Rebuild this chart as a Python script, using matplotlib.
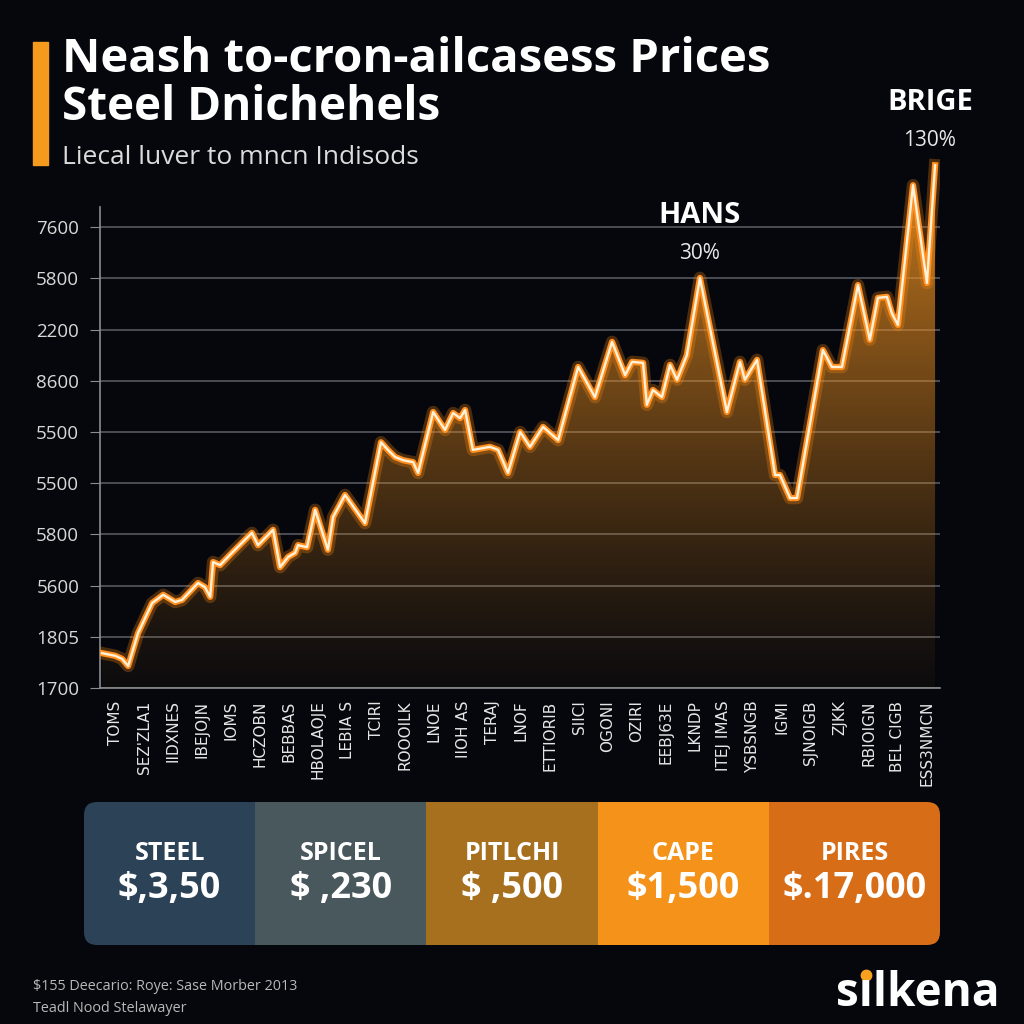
import numpy as np
import matplotlib
matplotlib.use("Agg")
import matplotlib.pyplot as plt
from matplotlib.patches import FancyBboxPatch, Rectangle
from matplotlib.transforms import IdentityTransform

# --- data ---
# x in category-slot units (0 = first tick label), y in tick-slot units
price_x = [-0.45, 0.0, 0.24, 0.45, 0.79, 1.28, 1.66, 2.07, 2.31, 2.86, 3.10, 3.28, 3.38, 3.62,
           4.03, 4.72, 4.93, 5.45, 5.69, 5.97, 6.21, 6.31, 6.62, 6.90, 7.34, 7.52, 7.93, 8.62,
           9.17, 9.41, 9.66, 9.93, 10.28, 10.45, 10.97, 11.38, 11.66, 11.90, 12.07, 12.34, 12.93,
           13.21, 13.55, 13.97, 14.31, 14.76, 15.28, 15.97, 16.55, 17.14, 17.59, 17.83, 18.21,
           18.34, 18.55, 18.86, 19.14, 19.38, 19.72, 20.17, 21.10, 21.55, 21.72, 22.14, 22.76,
           22.93, 23.28, 23.52, 24.41, 24.72, 25.07, 25.62, 26.03, 26.31, 26.62, 26.79, 27.00,
           27.52, 28.00, 28.28]
price_y = [0.68, 0.63, 0.57, 0.43, 1.07, 1.66, 1.82, 1.68, 1.72, 2.05, 1.97, 1.78, 2.46, 2.40,
           2.64, 3.03, 2.79, 3.09, 2.36, 2.56, 2.64, 2.79, 2.75, 3.48, 2.70, 3.34, 3.77, 3.22,
           4.80, 4.65, 4.51, 4.45, 4.41, 4.20, 5.39, 5.04, 5.37, 5.27, 5.43, 4.65, 4.71,
           4.65, 4.20, 5.00, 4.71, 5.10, 4.84, 6.27, 5.68, 6.76, 6.11, 6.37, 6.35,
           5.53, 5.82, 5.68, 6.31, 6.02, 6.50, 8.01, 5.39, 6.37, 6.02, 6.41, 4.16,
           4.16, 3.71, 3.71, 6.60, 6.27, 6.27, 7.87, 6.80, 7.62, 7.64, 7.32, 7.09,
           9.82, 7.91, 10.21]

x_labels = ["TOMS", "SEZ'ZLA1", "IIDXNES", "IBEJOJN", "IOMS", "HCZOBN", "BEBBAS", "HBOLAOJE",
            "LEBIA S", "TCIRI", "ROOOILK", "LNOE", "IIOH AS", "TERAJ", "LNOF", "ETTIORIB",
            "SIICI", "OGONI", "OZIRI", "EEBJ63E", "LKNDP", "ITEJ IMAS", "YSBSNGB", "IGMI",
            "SJNOIGB", "ZJKK", "RBIOIGN", "BEL CIGB", "ESS3NMCN"]
y_labels = ["1700", "1805", "5600", "5800", "5500", "5500", "8600", "2200", "5800", "7600"]

callouts = [("HANS", "30%", 20.17, 8.01), ("BRIGE", "130%", 28.1, 10.21)]

card_names = ["STEEL", "SPICEL", "PITLCHI", "CAPE", "PIRES"]
card_values = ["$,3,50", "$ ,230", "$ ,500", "$1,500", "$.17,000"]
card_colors = ["#2b4257", "#48585d", "#a6701f", "#f5921a", "#d76d16"]

BG = "#05070d"
ORANGE = "#ff8f1f"

fig = plt.figure(figsize=(10.24, 10.24), dpi=100, facecolor=BG)

# title block
fig.patches.append(Rectangle((33 / 1024, 1 - 165 / 1024), 15 / 1024, 123 / 1024,
                             transform=fig.transFigure, color="#f59a1c"))
fig.text(62 / 1024, 1 - 60 / 1024, "Neash to-cron-ailcasess Prices", color="white",
         fontsize=34, fontweight="bold", family="Open Sans", va="center")
fig.text(62 / 1024, 1 - 108 / 1024, "Steel Dnichehels", color="white",
         fontsize=33, fontweight="bold", family="Open Sans", va="center")
fig.text(62 / 1024, 1 - 158 / 1024, "Liecal luver to mncn Indisods", color="#dcdcdc",
         fontsize=19, family="Open Sans", va="center")

# --- main chart ---
ax = fig.add_axes([100 / 1024, 1 - 688 / 1024, 840 / 1024, 10.4 * 51.2 / 1024])
ax.set_facecolor(BG)
ax.set_xlim(-0.52, 28.45)
ax.set_ylim(0, 10.4)

for lv in range(10):
    ax.axhline(lv, color="#5d5f66", lw=1.1, zorder=1)

# gradient fill under the line
fill = ax.fill_between(price_x, price_y, 0, facecolor="none", edgecolor="none")
grad = np.linspace(0, 1, 256)[:, None]
rgba = np.zeros((256, 1, 4))
rgba[..., 0] = 0.90
rgba[..., 1] = 0.55
rgba[..., 2] = 0.13
rgba[..., 3] = 0.04 + 0.86 * grad ** 1.2
im = ax.imshow(rgba, extent=[-0.52, 28.45, 0, 10.4], origin="lower", aspect="auto", zorder=2)
im.set_clip_path(fill.get_paths()[0], transform=ax.transData)

# glowing line
ax.plot(price_x, price_y, color="#ff8a10", lw=9, alpha=0.28, zorder=3, solid_joinstyle="round")
ax.plot(price_x, price_y, color=ORANGE, lw=4.5, zorder=4, solid_joinstyle="round")
ax.plot(price_x, price_y, color="#fff2da", lw=1.7, zorder=5, solid_joinstyle="round")

for name, pct, cx, cy in callouts:
    ax.text(cx, cy + 1.22, name, color="white", fontsize=21, fontweight="bold",
            family="Open Sans", ha="center", va="center")
    ax.text(cx, cy + 0.48, pct, color="#e8e8e8", fontsize=15, family="Open Sans",
            ha="center", va="center")

for s in ["top", "right"]:
    ax.spines[s].set_visible(False)
ax.spines["left"].set_bounds(0, 9.4)
for s in ["left", "bottom"]:
    ax.spines[s].set_color("#8a8c90")
    ax.spines[s].set_linewidth(1.2)

ax.set_yticks(range(10))
ax.set_yticklabels(y_labels, color="#d8d8d8", fontsize=13.5, family="Open Sans")
ax.set_xticks(range(len(x_labels)))
ax.set_xticklabels(x_labels, rotation=90, color="#e6e6e6", fontsize=11, family="DejaVu Sans",
                   va="top")
ax.tick_params(axis="y", length=7, color="#8a8c90", pad=8)
ax.tick_params(axis="x", length=0, pad=9)

# --- price cards ---
cax = fig.add_axes([84 / 1024, 1 - 945 / 1024, 856 / 1024, 143 / 1024])
cax.set_xlim(0, 5)
cax.set_ylim(0, 1)
cax.axis("off")
clip = FancyBboxPatch((84, 1024 - 945), 856, 143, boxstyle="round,pad=0,rounding_size=13",
                      transform=IdentityTransform(), facecolor="none", edgecolor="none")
bars = cax.bar(np.arange(5) + 0.5, [1] * 5, width=1.0, color=card_colors)
for b in bars:
    b.set_clip_path(clip)
for i in range(5):
    cax.text(i + 0.5, 0.64, card_names[i], color="white", fontsize=18, fontweight="bold",
             family="Open Sans", ha="center", va="center")
    cax.text(i + 0.5, 0.39, card_values[i], color="white", fontsize=26, fontweight="bold",
             family="Open Sans", ha="center", va="center")

# footer
fig.text(33 / 1024, 1 - 987 / 1024, "$155 Deecario: Roye: Sase Morber 2013", color="#b8b8b8",
         fontsize=10.4, family="Open Sans", va="center")
fig.text(33 / 1024, 1 - 1008 / 1024, "Teadl Nood Stelawayer", color="#b8b8b8",
         fontsize=10.4, family="Open Sans", va="center")

# brand with an orange dot on the i
brand_kw = dict(color="white", fontsize=33, fontweight="bold", family="Open Sans", va="center")
fig.text(836 / 1024, 1 - 993 / 1024, "s\u0131lkena", ha="left", **brand_kw)
fig.canvas.draw()
rend = fig.canvas.get_renderer()
probe1 = fig.text(0, 0, "s", **brand_kw)
probe2 = fig.text(0, 0, "s\u0131", **brand_kw)
w1 = probe1.get_window_extent(rend).width
w2 = probe2.get_window_extent(rend).width
probe1.remove()
probe2.remove()
dot_x = 836 + (w1 + w2) / 2
fig.add_artist(plt.Line2D([dot_x / 1024], [1 - 975 / 1024], marker="o", markersize=7.5,
                          color="#f7a11e", transform=fig.transFigure))

fig.savefig("out.png", dpi=100, facecolor=BG)
